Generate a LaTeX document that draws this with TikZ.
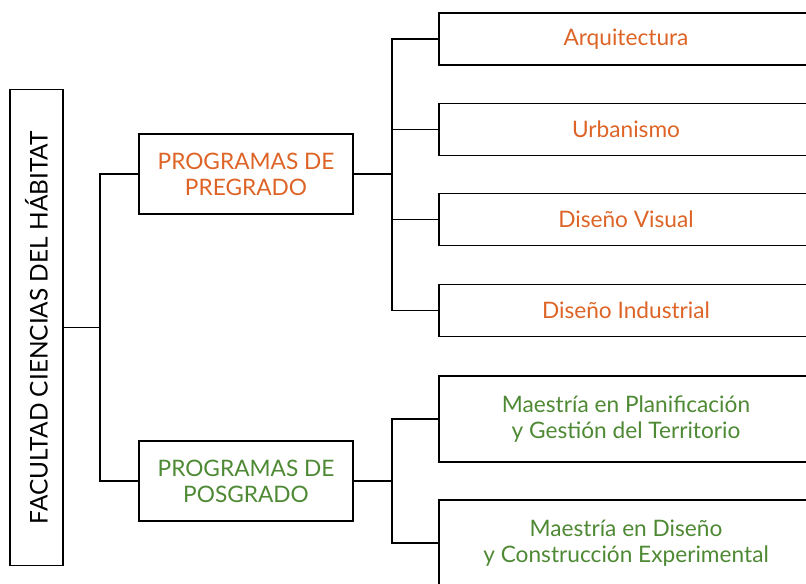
\documentclass[tikz,border=0pt]{standalone}
\usepackage{fontspec}
\setmainfont{Lato}
\definecolor{pregcol}{RGB}{221,100,38}
\definecolor{poscol}{RGB}{78,137,52}
\begin{document}
\begin{tikzpicture}[x=0.75pt, y=-0.75pt,
        caja/.style={draw, line width=0.9pt, align=center, inner sep=0pt,
            font=\fontsize{17}{19.5}\selectfont},
        programa/.style={caja, minimum width=160.5pt, minimum height=60pt},
        carrera/.style={caja, minimum width=280.5pt, minimum height=39pt, text=pregcol},
        maestria/.style={caja, minimum width=280.5pt, minimum height=64.5pt, text=poscol},
        rama/.style={line width=0.9pt}]
        \useasboundingbox (0,0) rectangle (806,583);
        % facultad
        \node [caja, rotate=90, minimum width=357pt, minimum height=39.75pt, font=\fontsize{18.3}{20}\selectfont] (facultad) at (36.5,327.5) {FACULTAD CIENCIAS DEL HÁBITAT};
        % programas
        \node [programa, text=pregcol] (pregrado) at (246,174) {PROGRAMAS DE\\PREGRADO};
        \node [programa, text=poscol] (posgrado) at (246,481) {PROGRAMAS DE\\POSGRADO};
        % pregrado
        \node [carrera] (arq) at (626,39) {Arquitectura};
        \node [carrera] (urb) at (626,129.5) {Urbanismo};
        \node [carrera] (visual) at (626,219.5) {Diseño Visual};
        \node [carrera] (industrial) at (626,310.5) {Diseño Industrial};
        % posgrado
        \node [maestria] (planif) at (626,419) {Maestría en Planificación\\y Gestión del Territorio};
        \node [maestria] (constr) at (626,543) {Maestría en Diseño\\y Construcción Experimental};
        % ramas
        \coordinate (jfac) at (100,327.5);
        \coordinate (jpre) at (392,174);
        \coordinate (jpos) at (392,481);
        \draw [rama] (facultad.south) -- (jfac);
        \draw [rama] (jfac) |- (pregrado.west);
        \draw [rama] (jfac) |- (posgrado.west);
        \draw [rama] (pregrado.east) -- (jpre);
        \draw [rama] (jpos) -- (posgrado.east);
        \foreach \n in {arq, urb, visual, industrial}
            \draw [rama] (jpre) |- (\n.west);
        \foreach \n in {planif, constr}
            \draw [rama] (jpos) |- (\n.west);
\end{tikzpicture}
\end{document}
